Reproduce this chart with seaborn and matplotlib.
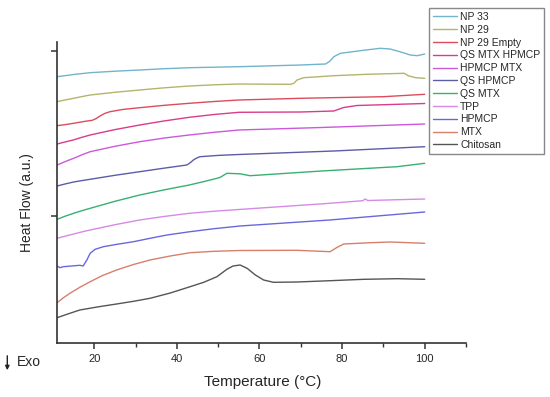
import numpy as np
import pandas as pd
import matplotlib
matplotlib.use("Agg")
import matplotlib.pyplot as plt
from matplotlib.patches import FancyArrowPatch
import seaborn as sns

# curve data (heat flow in arbitrary units)
np33_t = [11, 15, 19, 25, 31, 37, 43, 55, 70, 76, 77, 78, 79.6, 84.4, 89.2, 91.6, 94, 96.5, 98.2, 100]
np33_y = [266.6, 268.8, 270.6, 272.1, 273.3, 274.6, 275.6, 276.6, 278.3, 279.3, 282.0, 286.6, 290.0, 292.6, 295.0, 294.3, 291.6, 288.3, 287.6, 289.3]

np29_t = [11, 13, 15, 17, 19, 25, 31, 37, 43, 49, 55, 67.5, 68.3, 69.1, 70.7, 78, 86, 95, 96, 97.8, 100]
np29_y = [241.6, 243.4, 245.0, 246.7, 248.3, 251.0, 253.3, 255.5, 257.3, 258.5, 259.3, 259.0, 260.0, 263.3, 265.6, 267.6, 269.0, 270.0, 267.6, 265.6, 265.0]

np29e_t = [11, 13, 15, 17.5, 19.5, 20.5, 21.4, 22.5, 23.8, 27, 31, 37, 43, 49, 55, 70, 90, 100]
np29e_y = [217.6, 218.7, 220.0, 221.8, 223.0, 224.8, 227.3, 229.8, 231.6, 233.9, 235.6, 238.0, 240.0, 241.8, 243.3, 245.0, 246.6, 249.0]

qsmh_t = [11, 13, 14.9, 17, 19, 25, 31, 37, 43, 49, 55, 70, 78, 80.4, 83.6, 100]
qsmh_y = [199.3, 201.4, 203.3, 206.0, 208.3, 213.7, 218.3, 222.4, 226.0, 228.8, 231.0, 231.3, 232.3, 235.8, 237.8, 239.8]

hmtx_t = [11, 13, 15, 17, 19, 25, 31, 37, 43, 49, 55, 75, 100]
hmtx_y = [178.3, 181.8, 185.0, 188.5, 191.6, 197.0, 201.6, 205.3, 208.3, 211.0, 213.3, 215.8, 219.3]

qsh_t = [11, 13, 15, 17, 19, 25, 31, 37, 42.4, 43.2, 44, 44.8, 45.6, 50, 55, 78, 100]
qsh_y = [157.3, 159.4, 161.3, 162.7, 164.0, 168.0, 171.6, 175.2, 178.3, 180.5, 183.3, 185.3, 186.6, 187.9, 188.8, 192.3, 196.6]

qsm_t = [11, 13, 15, 17, 19, 25, 31, 37, 43, 47, 49.7, 50.5, 52.1, 55.3, 57.7, 75, 93.3, 100]
qsm_y = [124.0, 127.2, 130.0, 132.6, 135.0, 142.0, 148.3, 153.5, 158.3, 162.2, 165.0, 166.0, 170.0, 169.5, 167.6, 172.3, 176.6, 180.0]

tpp_t = [11, 13, 15, 17, 19, 25, 31, 37, 43, 49, 55, 77, 85, 85.6, 86.2, 100]
tpp_y = [105.0, 107.2, 109.3, 111.4, 113.3, 118.6, 123.3, 126.9, 130.0, 132.1, 133.8, 140.0, 142.6, 144.3, 142.8, 144.3]

hpmcp_t = [11, 11.7, 12.5, 16.5, 17.3, 18.2, 19, 20.2, 22.2, 25.5, 29.5, 33.5, 37.6, 43, 49, 55.3, 77, 100]
hpmcp_y = [77.3, 75.6, 76.6, 78.0, 77.3, 83.3, 90.0, 94.0, 96.6, 99.0, 101.6, 105.0, 108.3, 111.5, 114.6, 117.3, 123.3, 131.3]

mtx_t = [11, 12.5, 14.1, 16.5, 19, 22, 25.4, 29.5, 33.5, 38.4, 43.2, 49, 55.3, 69.1, 77.1, 78.8, 80.4, 86.8, 91.7, 100]
mtx_y = [40.6, 45.5, 50.0, 56.0, 61.6, 67.8, 73.3, 78.8, 83.3, 87.3, 90.6, 92.0, 92.8, 93.0, 91.6, 96.0, 99.3, 100.6, 101.3, 100.0]

chit_t = [11, 13.5, 16.5, 21, 25.4, 29.5, 33.5, 38.4, 43.2, 46.5, 49.7, 52.1, 53.6, 55.3, 57, 59, 61, 63.4, 69.1, 77.1, 85.3, 93.4, 100]
chit_y = [25.6, 29.2, 33.3, 36.5, 39.3, 42.0, 45.0, 50.3, 56.6, 61.0, 66.6, 74.0, 77.3, 78.3, 75.0, 68.3, 63.3, 61.0, 61.3, 62.6, 64.0, 64.6, 64.0]

names = ["NP 33", "NP 29", "NP 29 Empty", "QS MTX HPMCP", "HPMCP MTX",
         "QS HPMCP", "QS MTX", "TPP", "HPMCP", "MTX", "Chitosan"]
series = [(np33_t, np33_y), (np29_t, np29_y), (np29e_t, np29e_y), (qsmh_t, qsmh_y),
          (hmtx_t, hmtx_y), (qsh_t, qsh_y), (qsm_t, qsm_y), (tpp_t, tpp_y),
          (hpmcp_t, hpmcp_y), (mtx_t, mtx_y), (chit_t, chit_y)]
colores = ["#72b4cc", "#b4b46c", "#dc4c5c", "#d83c8c", "#cc58dc",
           "#5c5ca8", "#38b070", "#d68ae6", "#6868dc", "#d6806c", "#555555"]

frames = []
for n, (t, y) in zip(names, series):
    frames.append(pd.DataFrame({"T": t, "HF": y, "muestra": n}))
datos = pd.concat(frames, ignore_index=True)

sns.set_theme(style="white")
plt.rcParams["font.family"] = ["Liberation Sans", "DejaVu Sans"]

fig = plt.figure(figsize=(5.5, 3.97), dpi=100)
ax = fig.add_axes([56.7 / 550, 1 - 343.3 / 397, 409.3 / 550, 301.6 / 397])

sns.lineplot(data=datos, x="T", y="HF", hue="muestra", hue_order=names,
             palette=dict(zip(names, colores)), estimator=None, sort=False,
             linewidth=1.0, ax=ax)

ax.set_xlim(10.9, 110)
ax.set_ylim(0, 301.6)
ax.set_xticks([20, 40, 60, 80, 100])
ax.set_xticks([30, 50, 70, 90, 110], minor=True)
ax.set_yticks([127.3, 292.6])
ax.set_yticklabels([])
ax.set_xlabel("")
ax.set_ylabel("")
for s in ["top", "right"]:
    ax.spines[s].set_visible(False)
for s in ["left", "bottom"]:
    ax.spines[s].set_color("#333333")
    ax.spines[s].set_linewidth(1.2)
ax.tick_params(axis="both", which="major", direction="out", length=4, width=1.1,
               color="#333333", labelsize=8, pad=4, bottom=True, left=True)
ax.tick_params(axis="x", which="minor", direction="out", length=3, width=1.0,
               color="#333333", bottom=True)

h, l = ax.get_legend_handles_labels()
ax.legend(h, l, loc="upper left", bbox_to_anchor=(429.3 / 550, 1 - 8.3 / 397),
          bbox_transform=fig.transFigure, borderaxespad=0, fontsize=7.5,
          handlelength=2.3, handletextpad=0.3, labelspacing=0.27, borderpad=0.35,
          frameon=True, fancybox=False, edgecolor="#888888", framealpha=1)

fig.text(263 / 550, 1 - 382 / 397, "Temperature (°C)", ha="center", va="center", fontsize=11)
fig.text(27.5 / 550, 1 - 202.5 / 397, "Heat Flow (a.u.)", ha="center", va="center",
         rotation=90, fontsize=10)
fig.text(16.7 / 550, 1 - 362.3 / 397, "Exo", ha="left", va="center", fontsize=10)
fig.patches.append(FancyArrowPatch(
    (7.3 / 550, 1 - 353 / 397), (7.3 / 550, 1 - 373 / 397), transform=fig.transFigure,
    arrowstyle="-|>", mutation_scale=6, linewidth=1.0, color="#222222"))

fig.savefig("out.png", dpi=100)
plt.close()
